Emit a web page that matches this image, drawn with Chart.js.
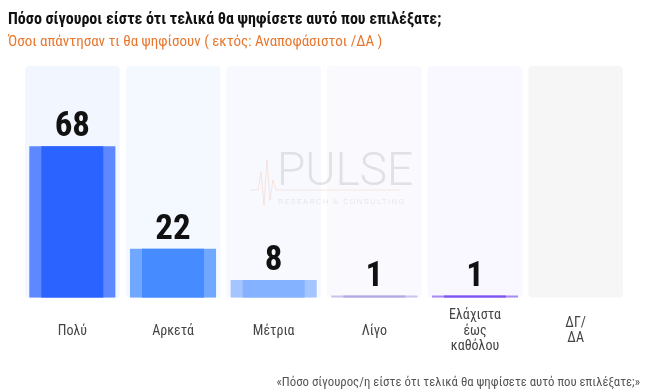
<!DOCTYPE html>
<html><head><meta charset="utf-8">
<script src="https://cdn.jsdelivr.net/npm/chart.js@4.4.0/dist/chart.umd.min.js"></script>
<style>html,body{margin:0;padding:0;background:#fff}#wrap{width:650px;height:392px;position:relative}</style>
</head><body><div id="wrap"><canvas id="c" width="650" height="392"></canvas></div>
<script>
// ---- data ----
const categories = [['Πολύ'], ['Αρκετά'], ['Μέτρια'], ['Λίγο'], ['Ελάχιστα', 'έως', 'καθόλου'], ['ΔΓ/', 'ΔΑ']];
const values = [68, 22, 8, 1, 1, null];
const valueLabels = ['68', '22', '8', '1', '1', ''];
const columnMax = 104;
const columnValues = [columnMax, columnMax, columnMax, columnMax, columnMax, columnMax];
const titleText = 'Πόσο σίγουροι είστε ότι τελικά θα ψηφίσετε αυτό που επιλέξατε;';
const subtitleText = 'Όσοι απάντησαν τι θα ψηφίσουν ( εκτός: Αναποφάσιστοι /ΔΑ )';
const footerText = '«Πόσο σίγουρος/η είστε ότι τελικά θα ψηφίσετε αυτό που επιλέξατε;»';

// ---- styles ----
const COND = '"Liberation Sans Narrow", "Roboto Condensed", "Roboto", sans-serif';
const outerColors = ['#5D88FF', '#70A7FF', '#A4C5FF', '#C8C4EC', '#A68BF3', 'rgba(0,0,0,0)'];
const innerColors = ['#2A63FF', '#468BFF', '#84B2FF', '#B2AAE4', '#7E52F5', 'rgba(0,0,0,0)'];
const columnColors = ['#F2F6FF', '#F4F8FF', '#F7F9FF', '#FAFAFE', '#F9F7FF', '#F6F6F6'];

const textPlugin = {
  id: 'texts',
  afterDatasetsDraw(chart) {
    const ctx = chart.ctx;
    ctx.save();
    // watermark
    ctx.fillStyle = 'rgba(195,195,200,0.45)';
    ctx.font = '300 46px Roboto, "DejaVu Sans", sans-serif';
    ctx.textAlign = 'left';
    ctx.textBaseline = 'alphabetic';
    if ('letterSpacing' in ctx) ctx.letterSpacing = '0px';
    ctx.fillText('PULSE', 277, 185);
    ctx.font = '300 8px Roboto, sans-serif';
    if ('letterSpacing' in ctx) ctx.letterSpacing = '1.5px';
    ctx.fillText('RESEARCH & CONSULTING', 278, 204);
    if ('letterSpacing' in ctx) ctx.letterSpacing = '0px';
    ctx.strokeStyle = 'rgba(240,180,150,0.3)';
    ctx.lineWidth = 1;
    ctx.beginPath();
    const pts = [[250,190],[258,190],[261,172],[264,205],[267,160],[270,200],[273,180],[276,190],[400,190]];
    pts.forEach((p, i) => i ? ctx.lineTo(p[0], p[1]) : ctx.moveTo(p[0], p[1]));
    ctx.stroke();
    // value labels
    const meta = chart.getDatasetMeta(1);
    ctx.fillStyle = '#111';
    ctx.font = 'bold 35px ' + COND;
    ctx.textAlign = 'center';
    meta.data.forEach((el, i) => {
      if (!valueLabels[i]) return;
      ctx.fillText(valueLabels[i], el.x, el.y - 10);
    });
    // title
    ctx.textAlign = 'left';
    ctx.fillStyle = '#111';
    ctx.font = 'bold 16px ' + COND;
    ctx.fillText(titleText, 8, 24);
    ctx.fillStyle = '#E8772E';
    ctx.font = '15px ' + COND;
    ctx.fillText(subtitleText, 8, 46);
    // footer
    ctx.textAlign = 'right';
    ctx.fillStyle = '#555';
    ctx.font = '12.8px ' + COND;
    ctx.fillText(footerText, 640, 386);
    ctx.restore();
  }
};

new Chart(document.getElementById('c'), {
  type: 'bar',
  data: {
    labels: categories,
    datasets: [
      { data: columnValues, backgroundColor: columnColors, grouped: false, order: 3,
        barPercentage: 0.94, categoryPercentage: 1.0, borderRadius: 4, borderSkipped: false },
      { data: values, backgroundColor: outerColors, grouped: false, order: 2,
        barPercentage: 0.855, categoryPercentage: 1.0 },
      { data: values, backgroundColor: innerColors, grouped: false, order: 1,
        barPercentage: 0.615, categoryPercentage: 1.0 }
    ]
  },
  options: {
    responsive: false,
    animation: false,
    devicePixelRatio: 1,
    layout: { padding: { left: 22, right: 24, top: 66, bottom: 20 } },
    plugins: { legend: { display: false }, tooltip: { enabled: false } },
    scales: {
      y: { display: false, min: 0, max: columnMax },
      x: {
        grid: { display: false }, border: { display: false },
        ticks: { color: '#444', font: { family: COND, size: 14, lineHeight: 1.1 },
                 padding: 10, maxRotation: 0, autoSkip: false, crossAlign: 'center' }
      }
    }
  },
  plugins: [textPlugin]
});
</script></body></html>
